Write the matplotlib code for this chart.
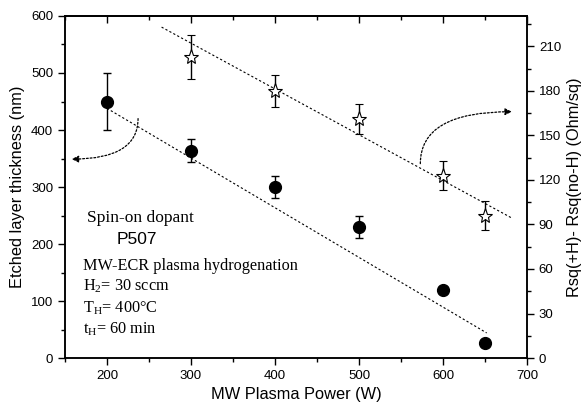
import numpy as np
import matplotlib.pyplot as plt
from matplotlib.patches import FancyArrowPatch
from matplotlib.path import Path

plt.rcParams['font.family'] = ['Liberation Sans', 'DejaVu Sans']
plt.rcParams['mathtext.fontset'] = 'custom'
plt.rcParams['mathtext.rm'] = 'Liberation Serif'
plt.rcParams['mathtext.it'] = 'Liberation Serif:italic'

# etched layer thickness (left axis)
power = [200, 300, 400, 500, 600, 650]
thick = [450, 364, 300, 230, 120, 26]
thick_err = [50, 20, 20, 20, 0, 0]

# sheet resistance difference (right axis)
power_r = [300, 400, 500, 600, 650]
rsq = [203, 180, 161, 123, 96]
rsq_err = [15, 11, 10, 10, 10]

# linear fit lines (end points)
fit_thick_x = [200, 652]
fit_thick_y = [438, 44]
fit_rsq_x = [265, 683]
fit_rsq_y = [223, 94]

fig = plt.figure(figsize=(5.87, 4.08), dpi=100)
ax = fig.add_axes([0.1107, 0.1225, 0.7871, 0.8383])
ax2 = ax.twinx()

ax.errorbar(power, thick, yerr=thick_err, fmt='o', color='black', ms=8.5,
            capsize=3, elinewidth=1, capthick=1)
ax.plot(fit_thick_x, fit_thick_y, color='black', lw=0.8, dashes=(2, 2))

ax2.errorbar(power_r, rsq, yerr=rsq_err, fmt='*', mfc='white', mec='black',
             mew=0.8, color='black', ms=11, capsize=3, elinewidth=1, capthick=1)
ax2.plot(fit_rsq_x, fit_rsq_y, color='black', lw=0.8, dashes=(2, 2))

ax.set_xlim(150, 700)
ax.set_ylim(0, 600)
ax2.set_ylim(0, 230.5)

ax.set_xticks(np.arange(200, 701, 100))
ax.set_xticks(np.arange(150, 701, 50), minor=True)
ax.set_yticks(np.arange(0, 601, 100))
ax.set_yticks(np.arange(50, 601, 100), minor=True)
ax2.set_yticks(np.arange(0, 211, 30))
ax2.set_yticks(np.arange(15, 230, 30), minor=True)

ax.tick_params(axis='both', which='both', direction='out', labelsize=9.5, width=1)
ax.tick_params(which='major', length=5)
ax.tick_params(which='minor', length=3)
ax2.tick_params(axis='y', which='both', direction='out', labelsize=9.5, width=1)
ax2.tick_params(which='major', length=5)
ax2.tick_params(which='minor', length=3)

# top ticks point inward
top = ax.secondary_xaxis('top')
top.set_xticks(np.arange(200, 701, 100))
top.set_xticks(np.arange(150, 701, 50), minor=True)
top.set_xticklabels([])
top.tick_params(which='both', direction='in', width=1)
top.tick_params(which='major', length=5)
top.tick_params(which='minor', length=3)

for a in (ax, ax2, top):
    for s in a.spines.values():
        s.set_linewidth(1.1)

ax.set_xlabel('MW Plasma Power (W)', fontsize=11.8)
ax.set_ylabel('Etched layer thickness (nm)', fontsize=11.8)
ax2.set_ylabel('Rsq(+H)- Rsq(no-H) (Ohm/sq)', fontsize=11.8)

# curved dotted arrows pointing to the axes
p1 = Path([(237, 420), (237, 349), (158, 349)], [Path.MOVETO, Path.CURVE3, Path.CURVE3])
a1 = FancyArrowPatch(path=p1, arrowstyle='-|>,head_length=4,head_width=2',
                     linestyle=(0, (1.5, 1.5)), color='black', lw=0.9,
                     transform=ax.transData)
ax.add_patch(a1)
p2 = Path([(573, 131), (573, 166), (682, 166)], [Path.MOVETO, Path.CURVE3, Path.CURVE3])
a2 = FancyArrowPatch(path=p2, arrowstyle='-|>,head_length=4,head_width=2',
                     linestyle=(0, (1.5, 1.5)), color='black', lw=0.9,
                     transform=ax2.transData)
ax2.add_patch(a2)

serif = ['Liberation Serif', 'DejaVu Serif']
ax.text(176, 238, 'Spin-on dopant', family=serif, fontsize=12.5)
ax.text(211, 200, 'P507', fontsize=12.5)
ax.text(171, 155, 'MW-ECR plasma hydrogenation', family=serif, fontsize=11.7)
ax.text(171, 118, r'H$_2$= 30 sccm', family=serif, fontsize=11.7)
ax.text(171, 80, r'T$_\mathrm{H}$= 400°C', family=serif, fontsize=11.7)
ax.text(171, 42, r't$_\mathrm{H}$= 60 min', family=serif, fontsize=11.7)

fig.savefig('out.png', dpi=100)
